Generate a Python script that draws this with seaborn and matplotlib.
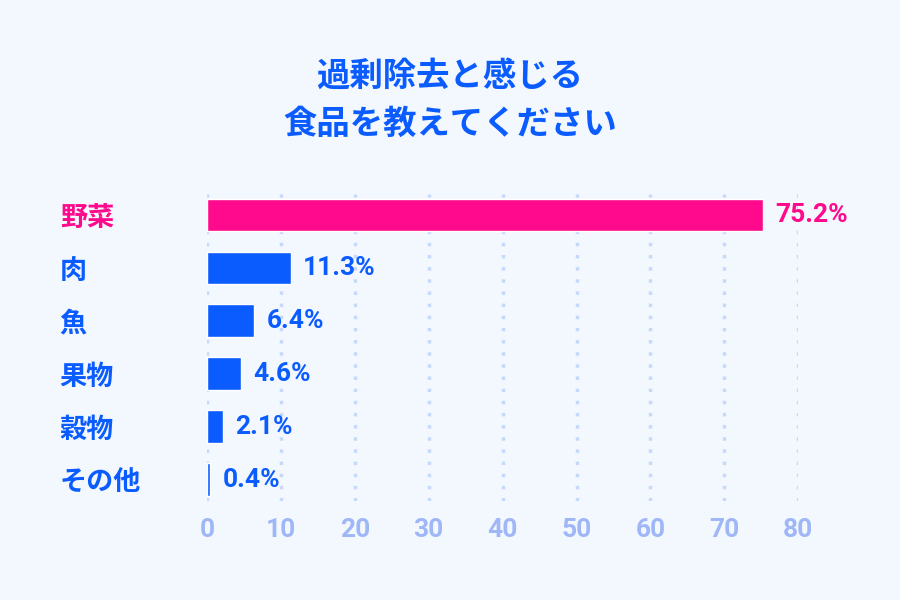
import matplotlib
matplotlib.use("Agg")
from matplotlib import pyplot as plt
import seaborn as sns

# chart data
categories = ["野菜", "肉", "魚", "果物", "穀物", "その他"]
values = [75.2, 11.3, 6.4, 4.6, 2.1, 0.4]
x_ticks = [0, 10, 20, 30, 40, 50, 60, 70, 80]
title = "過剰除去と感じる\n食品を教えてください"

# colours
BG = "#f3f8ff"
BLUE = "#0a5cff"
PINK = "#ff0a8c"
GRID = "#c6d9fb"
TICK = "#9fb7f7"
bar_colors = [PINK] + [BLUE] * (len(categories) - 1)

sns.set_theme(style="white")
plt.rcParams["font.family"] = ["Noto Sans CJK JP", "DejaVu Sans"]
plt.rcParams["font.weight"] = "bold"

fig = plt.figure(figsize=(9, 6), dpi=100, facecolor=BG)
ax = fig.add_axes([0.23, 0.165, 0.657, 0.512], facecolor=BG)

# dotted vertical grid behind the bars
for t in x_ticks:
    ax.axvline(t, color=GRID, lw=2.5, linestyle=(0, (1, 2.5)),
               dash_capstyle="butt", zorder=0)

sns.barplot(x=values, y=categories, hue=categories, palette=bar_colors,
            orient="h", width=0.62, legend=False, saturation=1, ax=ax, zorder=2)

# value labels
for i, v in enumerate(values):
    ax.text(v + 1.7, i, f"{v}%", va="center", ha="left", fontsize=19,
            fontweight="bold", color=bar_colors[i], family=["Roboto", "DejaVu Sans"],
            clip_on=False)

ax.set_xlim(0, 80)
ax.set_ylim(len(categories) - 0.6, -0.4)
ax.set_xticks(x_ticks)
ax.set_xticklabels([str(t) for t in x_ticks], fontsize=19, fontweight="bold",
                   color=TICK, family=["Roboto", "DejaVu Sans"])
ax.tick_params(axis="x", length=0, pad=12)
ax.tick_params(axis="y", length=0, pad=106)
ax.set_yticks(range(len(categories)))
ax.set_yticklabels(categories, fontsize=19.5, fontweight="bold", ha="left")
for lbl, c in zip(ax.get_yticklabels(), bar_colors):
    lbl.set_color(c)
ax.set_xlabel("")
ax.set_ylabel("")
sns.despine(ax=ax, left=True, bottom=True)

fig.text(0.5, 0.833, title, ha="center", va="center", fontsize=24,
         fontweight="bold", color=BLUE, linespacing=1.55)

fig.savefig("out.png", dpi=100, facecolor=BG)
